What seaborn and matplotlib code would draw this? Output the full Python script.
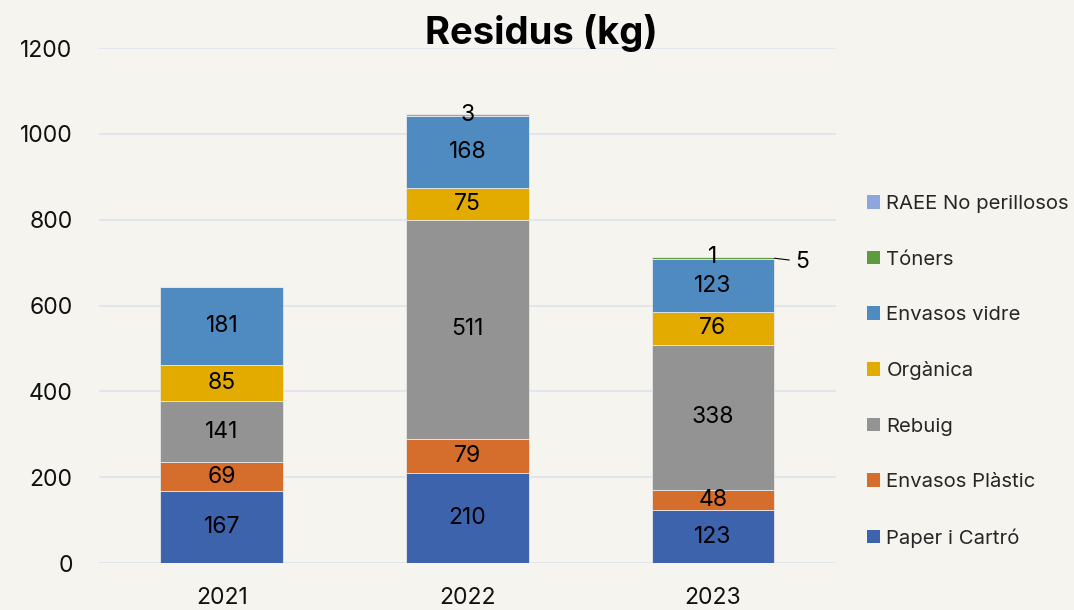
import matplotlib
matplotlib.use("Agg")
import matplotlib.pyplot as plt
from matplotlib.patches import Patch
import seaborn as sns
import numpy as np

years = ["2021", "2022", "2023"]
categories = ["Paper i Cartró", "Envasos Plàstic", "Rebuig", "Orgànica",
              "Envasos vidre", "Tóners", "RAEE No perillosos"]
paper = [167, 210, 123]
plastic = [69, 79, 48]
rebuig = [141, 511, 338]
organica = [85, 75, 76]
vidre = [181, 168, 123]
toners = [0, 0, 5]
raee = [0, 3, 1]
series = [paper, plastic, rebuig, organica, vidre, toners, raee]
colors = ["#3D63AD", "#D56D2C", "#939393", "#E3AA00", "#4F8BC0", "#5E9B3F", "#8EA6DA"]
yticks = [0, 200, 400, 600, 800, 1000, 1200]

bg = "#F5F4EE"
sns.set_theme(style="white")
plt.rcParams["font.family"] = ["Inter", "DejaVu Sans"]

fig = plt.figure(figsize=(10.74, 6.10), dpi=100, facecolor=bg)
ax = fig.add_axes([0.0922, 0.077, 0.686, 0.844])
ax.set_facecolor(bg)

bottoms = np.zeros(len(years))
for name, vals, col in zip(categories, series, colors):
    vals = np.array(vals, dtype=float)
    sns.barplot(x=years, y=vals, bottom=bottoms, color=col, width=0.5,
                ax=ax, saturation=1, edgecolor="#E8E8E8", linewidth=0.6,
                zorder=3)
    for i, v in enumerate(vals):
        if v <= 0:
            continue
        yc = bottoms[i] + v / 2
        if name == "Tóners":
            ax.annotate(f"{int(v)}", xy=(i + 0.25, yc), xytext=(i + 0.335, yc - 8),
                        textcoords="data", fontsize=16.5, color="black",
                        ha="left", va="center",
                        arrowprops=dict(arrowstyle="-", color="black", lw=0.8,
                                        shrinkA=2, shrinkB=0))
        else:
            ax.text(i, yc, f"{int(v)}", ha="center", va="center",
                    fontsize=16.5, color="black", zorder=5)
    bottoms += vals

ax.set_ylim(0, 1200)
ax.set_xlim(-0.5, 2.5)
ax.set_yticks(yticks)
ax.yaxis.grid(True, color="#DDE2EC", lw=1.2, zorder=0)
ax.set_axisbelow(True)
for s in ax.spines.values():
    s.set_visible(False)
ax.tick_params(axis="y", length=0, pad=19, labelsize=16.5, labelcolor="#111111")
ax.tick_params(axis="x", length=0, pad=17, labelsize=16.5, labelcolor="#111111")
ax.set_xlabel("")
ax.set_ylabel("")

handles = [Patch(facecolor=c, edgecolor="none") for c in colors][::-1]
leg = fig.legend(handles, categories[::-1], loc="center left",
                 bbox_to_anchor=(0.807, 0.391), frameon=False, fontsize=14.6,
                 handlelength=0.65, handleheight=0.65, handletextpad=0.32,
                 labelspacing=1.84, borderaxespad=0, borderpad=0)

fig.text(0.504, 0.946, "Residus (kg)", ha="center", va="center",
         fontsize=27.5, fontweight="bold", color="black")

fig.savefig("out.png", dpi=100, facecolor=bg)
